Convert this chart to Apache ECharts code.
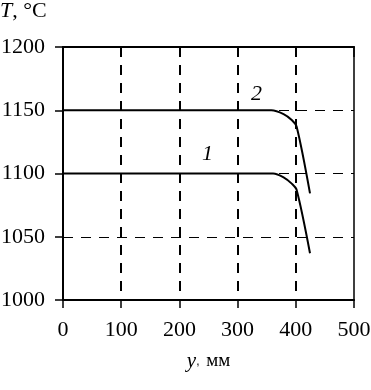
<!DOCTYPE html>
<html><head><meta charset="utf-8">
<script src="https://cdn.jsdelivr.net/npm/echarts@6/dist/echarts.min.js"></script>
<style>html,body{margin:0;padding:0;background:#fff}#c{width:371px;height:390px}</style>
</head><body><div id="c"></div>
<script>
const xTicks = [0, 100, 200, 300, 400, 500];
const yTicks = [1000, 1050, 1100, 1150, 1200];
const curve1X = [0, 100, 200, 300, 361, 379, 393, 401.5, 424.4];
const curve1Y = [1100, 1100, 1100, 1100, 1100, 1097, 1092, 1087, 1037];
const curve2X = [0, 100, 200, 300, 358, 379, 393, 401.5, 424.4];
const curve2Y = [1150, 1150, 1150, 1150, 1150, 1147, 1142.3, 1137, 1084.3];
const curveLabels = ['1', '2'];

const font = '"Liberation Serif", "Times New Roman", serif';
const chart = echarts.init(document.getElementById('c'), null, {renderer: 'canvas'});
const pair = (xs, ys) => xs.map((x, i) => [x, ys[i]]);
const grid = {left: 63, right: 17, top: 47, bottom: 90, containLabel: false, outerBoundsMode: 'none', show: true, borderColor: '#000', borderWidth: 1.5, backgroundColor: 'transparent'};
const xBase = {
  type: 'value', min: xTicks[0], max: xTicks[xTicks.length - 1], interval: 100,
  axisLine: {lineStyle: {color: '#000', width: 2}},
  splitLine: {show: false}
};
chart.setOption({
  animation: false,
  grid: grid,
  xAxis: [
    Object.assign({}, xBase, {
      axisTick: {inside: false, length: 8, lineStyle: {color: '#000', width: 1.5}},
      axisLabel: {color: '#000', fontFamily: font, fontSize: 22, margin: 19, formatter: v => String(v)},
      name: '{i|y},  {n|мм}', nameLocation: 'middle', nameGap: 51,
      nameTextStyle: {rich: {i: {fontFamily: font, fontStyle: 'italic', fontSize: 21, color: '#000'}, n: {fontFamily: font, fontSize: 19, color: '#000'}}}
    }),
    Object.assign({}, xBase, {
      axisTick: {inside: true, length: 10, lineStyle: {color: '#000', width: 1.5}},
      axisLabel: {show: false}
    }),
    {
      type: 'value', min: xTicks[0], max: xTicks[xTicks.length - 1], interval: 100, position: 'bottom',
      axisLine: {show: false}, axisTick: {show: false}, axisLabel: {show: false},
      splitLine: {show: true, showMinLine: false, showMaxLine: false, lineStyle: {color: '#000', width: 2, type: [10, 8]}}
    }
  ],
  yAxis: {
    type: 'value', min: yTicks[0], max: yTicks[yTicks.length - 1], interval: 50,
    axisLine: {show: true, lineStyle: {color: '#000', width: 2}},
    axisTick: {show: true, length: 8, lineStyle: {color: '#000', width: 1.5}},
    axisLabel: {color: '#000', fontFamily: font, fontSize: 22, margin: 18, formatter: v => String(v)},
    splitLine: {show: true, showMinLine: false, showMaxLine: false, lineStyle: {color: '#000', width: 1, type: [10, 8]}}
  },
  graphic: [
    {type: 'text', left: 0, top: 0, style: {text: '{i|T}, °C', rich: {i: {fontFamily: font, fontStyle: 'italic', fontSize: 22, fill: '#000'}}, font: '22px ' + font, fill: '#000'}},
    {type: 'text', left: 202, top: 143, style: {text: curveLabels[0], font: 'italic 22px ' + font, fill: '#000'}},
    {type: 'text', left: 251, top: 83, style: {text: curveLabels[1], font: 'italic 22px ' + font, fill: '#000'}}
  ],
  series: [
    {type: 'line', data: pair(curve1X, curve1Y), smooth: 0.3, showSymbol: false, lineStyle: {color: '#000', width: 2}, xAxisIndex: 0},
    {type: 'line', data: pair(curve2X, curve2Y), smooth: 0.3, showSymbol: false, lineStyle: {color: '#000', width: 2}, xAxisIndex: 0}
  ]
});
</script></body></html>
